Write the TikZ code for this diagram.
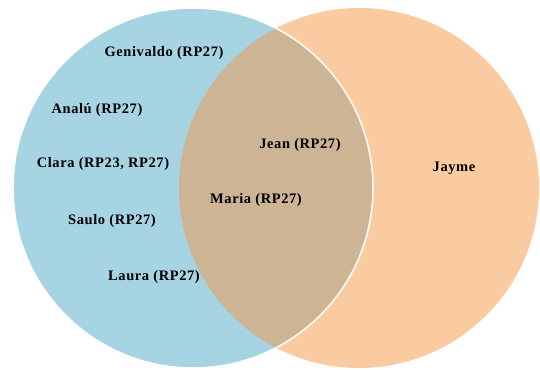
\documentclass[tikz,border=0pt]{standalone}
\usepackage{fontspec}
\setmainfont{Liberation Serif}
\newfontfamily\lblfont[LetterSpace=4]{Liberation Serif}
\definecolor{leftblue}{HTML}{A6D4E2}
\definecolor{rightpeach}{HTML}{FACAA1}
\definecolor{overlap}{HTML}{CDB494}
\begin{document}
\begin{tikzpicture}[x=1pt,y=-1pt,
  lbl/.style={font=\lblfont\fontsize{14.5}{16}\selectfont\bfseries, inner sep=0pt}]
\useasboundingbox (0,0) rectangle (540,369);
\fill[rightpeach] (359,188) circle (180);
\fill[leftblue] (193,188) circle (180);
\begin{scope}
  \clip (359,188) circle (180);
  \fill[overlap] (193,188) circle (180);
\end{scope}
\draw[white, line width=1.5pt] (193,188) circle (180);
\node[lbl] (genivaldo) at (164,53) {Genivaldo (RP27)};
\node[lbl] (analu) at (97,110) {Analú (RP27)};
\node[lbl] (clara) at (103,164) {Clara (RP23, RP27)};
\node[lbl] (saulo) at (112,221) {Saulo (RP27)};
\node[lbl] (laura) at (154,277) {Laura (RP27)};
\node[lbl] (maria) at (256,200) {Maria (RP27)};
\node[lbl] (jean) at (300,145) {Jean (RP27)};
\node[lbl] (jayme) at (454,168) {Jayme};
\end{tikzpicture}
\end{document}
